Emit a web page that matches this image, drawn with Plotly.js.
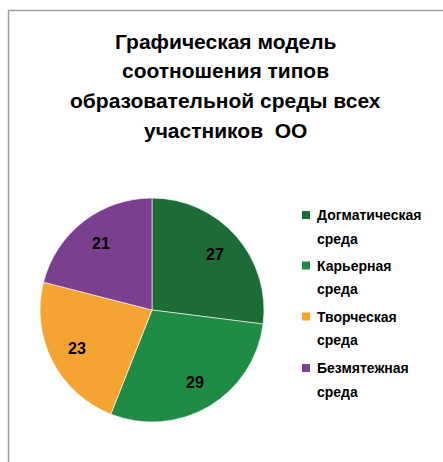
<!DOCTYPE html>
<html>
<head>
<meta charset="utf-8">
<script src="https://cdn.plot.ly/plotly-3.0.1.min.js"></script>
<style>html,body{margin:0;padding:0;background:#fff;}#chart{width:443px;height:462px;}</style>
</head>
<body>
<div id="chart"></div>
<script>
const categories = ["Догматическая среда", "Карьерная среда", "Творческая среда", "Безмятежная среда"];
const legendLines = [["Догматическая", "среда"], ["Карьерная", "среда"], ["Творческая", "среда"], ["Безмятежная", "среда"]];
const values = [27, 29, 23, 21];
const colors = ["#1d6b37", "#1f8b45", "#f5a431", "#7a3f8e"];
const titleLines = ["Графическая модель", "соотношения типов", "образовательной среды всех", "участников  ОО"];

const W = 443, H = 462;
const FONT = "Liberation Sans, Arial, sans-serif";
// pie geometry (pixels)
const cx = 152, cy = 310, R = 112;

const trace = {
  type: "pie",
  labels: categories,
  values: values,
  sort: false,
  direction: "clockwise",
  rotation: 0,
  marker: {colors: colors, line: {color: "#ffffff", width: 0.6}},
  textinfo: "none",
  domain: {x: [(cx - R) / W, (cx + R) / W], y: [(H - cy - R) / H, (H - cy + R) / H]},
  hoverinfo: "none",
  showlegend: false
};

const annotations = [];
// title lines
titleLines.forEach((t, i) => {
  annotations.push({
    text: t, xref: "paper", yref: "paper",
    x: 226 / W, y: 1 - (41 + i * 29.7) / H, xanchor: "center", yanchor: "middle",
    showarrow: false,
    font: {family: FONT, size: 21, color: "#000000", weight: "bold"}
  });
});
// value labels, placed along each slice bisector
const total = values.reduce((a, b) => a + b, 0);
let cum = 0;
values.forEach((v) => {
  const a = (cum + v / 2) / total * 2 * Math.PI;
  cum += v;
  const px = cx + 0.75 * R * Math.sin(a);
  const py = cy - 0.75 * R * Math.cos(a);
  annotations.push({
    text: String(v), xref: "paper", yref: "paper",
    x: px / W, y: 1 - py / H, xanchor: "center", yanchor: "middle",
    showarrow: false,
    font: {family: FONT, size: 16, color: "#000000", weight: "bold"}
  });
});
// legend
const shapes = [{
  type: "rect", xref: "paper", yref: "paper",
  x0: 8.5 / W, x1: 1.2, y0: -0.2, y1: 1 - 10.5 / H,
  line: {color: "#a0a0a0", width: 1.5}
}];
const legendTop = [215, 265.5, 316.5, 368];
legendLines.forEach((lines, i) => {
  const y0 = legendTop[i];
  shapes.push({
    type: "rect", xref: "paper", yref: "paper",
    x0: 302 / W, x1: 310 / W, y0: 1 - (y0 + 4) / H, y1: 1 - (y0 - 4) / H,
    fillcolor: colors[i], line: {width: 0}
  });
  lines.forEach((t, j) => {
    annotations.push({
      text: t, xref: "paper", yref: "paper",
      x: 315 / W, y: 1 - (y0 + j * 23.5) / H, xanchor: "left", yanchor: "middle",
      showarrow: false,
      font: {family: FONT, size: 14, color: "#000000", weight: "bold"}
    });
  });
});

const layout = {
  width: W,
  height: H,
  margin: {l: 0, r: 0, t: 0, b: 0},
  paper_bgcolor: "#ffffff",
  showlegend: false,
  annotations: annotations,
  shapes: shapes
};

Plotly.newPlot("chart", [trace], layout, {staticPlot: true});
</script>
</body>
</html>
